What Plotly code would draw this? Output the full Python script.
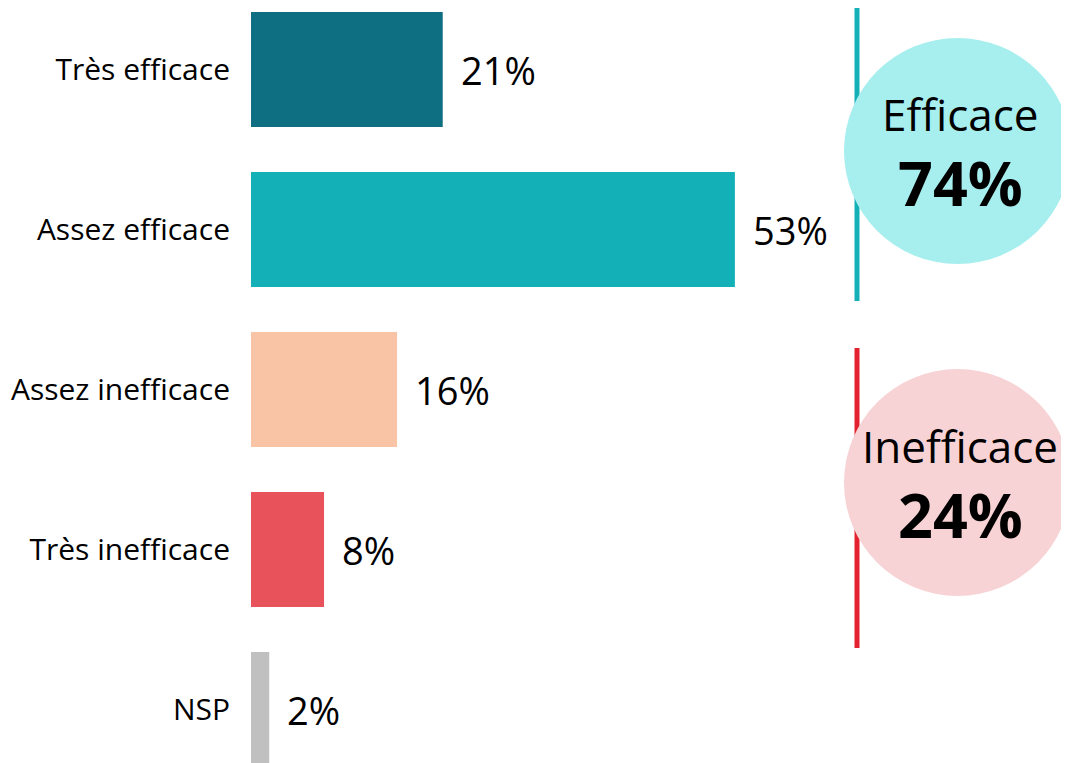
import plotly.graph_objects as go

categories = ["Très efficace", "Assez efficace", "Assez inefficace", "Très inefficace", "NSP"]
values = [21, 53, 16, 8, 2]
bar_colors = ["#0E6E82", "#13B0B8", "#F8C4A5", "#E8525A", "#C0C0C0"]

group_labels = ["Efficace", "Inefficace"]
group_values = [74, 24]

FONT = "Open Sans"
OFF = 8  # page body margin

fig = go.Figure()
fig.add_trace(go.Bar(
    y=categories, x=values, orientation="h",
    marker=dict(color=bar_colors, line=dict(width=0)),
    width=0.72, hoverinfo="skip",
))

for c, v in zip(categories, values):
    fig.add_annotation(x=v, y=c, xref="x", yref="y", text=f"{v}%",
                       showarrow=False, xanchor="left", yanchor="middle",
                       xshift=16, font=dict(family=FONT, size=38, color="#000000"))

W, H = 1069 - OFF, 763 - OFF
L = 251 - OFF
PW = W - L

def px(xp):
    return (xp - OFF - L) / PW

def py(yp):
    return 1 - (yp - OFF) / H

shapes = []
shapes.append(dict(type="line", xref="paper", yref="paper", x0=px(857), x1=px(857),
                   y0=py(2), y1=py(301), line=dict(color="#13B0B8", width=5)))
shapes.append(dict(type="line", xref="paper", yref="paper", x0=px(857), x1=px(857),
                   y0=py(348), y1=py(648), line=dict(color="#E4222F", width=5)))
shapes.append(dict(type="circle", xref="paper", yref="paper", x0=px(844), x1=px(1071),
                   y0=py(264), y1=py(38), fillcolor="#A7EEEE", line=dict(width=0)))
shapes.append(dict(type="circle", xref="paper", yref="paper", x0=px(844), x1=px(1071),
                   y0=py(596), y1=py(369), fillcolor="#F8D3D5", line=dict(width=0)))

centers = [(114, 182), (446, 514)]
for lab, val, (ty, vy) in zip(group_labels, group_values, centers):
    fig.add_annotation(x=px(960), y=py(ty), xref="paper", yref="paper", text=lab,
                       showarrow=False, xanchor="center", yanchor="middle",
                       font=dict(family=FONT, size=44, color="#000000"))
    fig.add_annotation(x=px(960), y=py(vy), xref="paper", yref="paper", text=f"<b>{val}%</b>",
                       showarrow=False, xanchor="center", yanchor="middle",
                       font=dict(family=FONT, size=61, color="#000000"))

c0 = 69.5 - OFF
fig.update_layout(
    width=W, height=H,
    margin=dict(l=L, r=0, t=0, b=0),
    paper_bgcolor="white", plot_bgcolor="white",
    showlegend=False, shapes=shapes,
    xaxis=dict(range=[0, PW / 9.13], visible=False, fixedrange=True),
    yaxis=dict(categoryorder="array", categoryarray=categories,
               range=[(H - c0) / 160, -c0 / 160],
               showgrid=False, zeroline=False, showline=False, ticks="",
               ticklabelstandoff=20,
               tickfont=dict(family=FONT, size=30, color="#000000")),
)

fig.write_html("out.html")
